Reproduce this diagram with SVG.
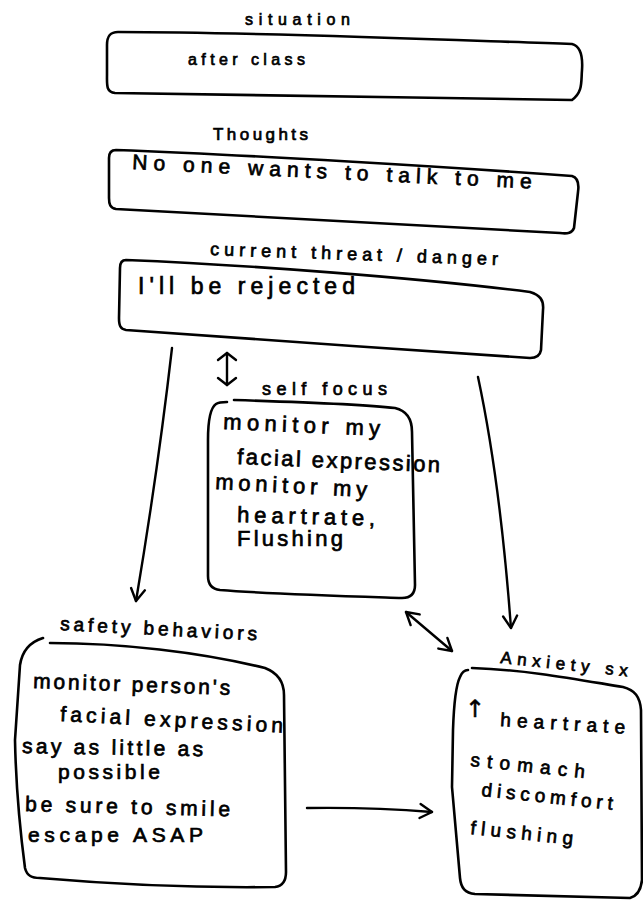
<svg xmlns="http://www.w3.org/2000/svg" width="643" height="901" viewBox="0 0 643 901">
<defs>
<style>
.box{fill:none;stroke:#000;stroke-width:2.6;stroke-linecap:round;stroke-linejoin:round}
.con{fill:none;stroke:#000;stroke-width:2.4;stroke-linecap:round}
.t{font-family:"Liberation Sans",Arial,sans-serif;fill:#000;stroke:#000;stroke-width:0.7}
</style>
<marker id="head" viewBox="0 0 12 14" refX="12" refY="7" markerWidth="12" markerHeight="14" markerUnits="userSpaceOnUse" orient="auto-start-reverse" overflow="visible">
<path d="M0,0 L12,7 L0,14" fill="none" stroke="#000" stroke-width="2.4" stroke-linecap="round" stroke-linejoin="round"/>
</marker>
<marker id="small" viewBox="0 0 7 18" refX="7" refY="9" markerWidth="7" markerHeight="18" markerUnits="userSpaceOnUse" orient="auto-start-reverse" overflow="visible">
<path d="M0,0 L7,9 L0,18" fill="none" stroke="#000" stroke-width="2.4" stroke-linecap="round" stroke-linejoin="round"/>
</marker>
</defs>
<rect width="643" height="901" fill="#fff"/>

<g id="situation">
<path class="box" d="M118 32 C260 32 450 40 572 44 C580 46 583 55 582 70 C581 82 583 92 572 100 C420 98 250 94 115 93 C106 92 107 85 107 75 L107 45 C107 36 110 32 118 32 Z"/>
<text class="t" x="245" y="25" font-size="16" textLength="105" lengthAdjust="spacing">situation</text>
<text class="t" x="188" y="65" font-size="16" textLength="117" lengthAdjust="spacing">after class</text>
</g>

<g id="thoughts">
<path class="box" d="M116 150 C250 155 450 167 572 176 C579 178 579 185 578 192 L574 228 C572 233 568 234 560 233 C400 225 250 216 116 209 C110 208 109 204 109 198 L109 158 C109 152 112 150 116 150 Z"/>
<text class="t" x="213" y="140" font-size="17" textLength="95" lengthAdjust="spacing">Thoughts</text>
<text class="t" x="132" y="169" font-size="21" textLength="400" lengthAdjust="spacing" transform="rotate(2.8 132 169)">No one wants to talk to me</text>
</g>

<g id="threat">
<path class="box" d="M126 260 C250 265 420 278 530 292 C540 295 544 300 543 310 L541 350 C540 356 536 358 530 358 C400 350 250 338 126 330 C120 329 119 325 119 318 L120 268 C120 263 122 260 126 260 Z"/>
<text class="t" x="210" y="255" font-size="18" textLength="288" lengthAdjust="spacing" transform="rotate(2 210 255)">current threat / danger</text>
<text class="t" x="138" y="294" font-size="23" textLength="217" lengthAdjust="spacing">I'll be rejected</text>
</g>

<g id="self-focus">
<path class="box" d="M234 400 C300 402 360 404 395 408 C408 411 412 420 412 432 L415 585 C415 594 410 598 402 598 C340 596 270 594 220 590 C211 589 208 584 208 576 L208 440 C208 420 210 408 216 404 C219 402 223 402 227 402"/>
<text class="t" x="262" y="395" font-size="18" textLength="125" lengthAdjust="spacing">self focus</text>
<text class="t" x="223" y="429" font-size="22" textLength="157" lengthAdjust="spacing" transform="rotate(2.5 223 429)">monitor my</text>
<text class="t" x="237" y="464" font-size="22" textLength="203" lengthAdjust="spacing" transform="rotate(2.3 237 464)">facial expression</text>
<text class="t" x="215" y="489" font-size="22" textLength="152" lengthAdjust="spacing" transform="rotate(3 215 489)">monitor my</text>
<text class="t" x="237" y="522" font-size="22" textLength="138" lengthAdjust="spacing" transform="rotate(1.5 237 522)">heartrate,</text>
<text class="t" x="237" y="546" font-size="22" textLength="106" lengthAdjust="spacing">Flushing</text>
</g>

<g id="safety-behaviors">
<path class="box" d="M43 638 C30 642 22 652 20 665 L15 740 C16 790 20 830 25 868 C27 876 32 878 40 878 C110 884 200 888 275 887 C283 886 286 880 286 872 L284 695 C284 683 278 673 265 668 C200 652 120 643 50 643"/>
<text class="t" x="60" y="630" font-size="19" textLength="197" lengthAdjust="spacing" transform="rotate(3 60 630)">safety behaviors</text>
<text class="t" x="33" y="688" font-size="21" textLength="197" lengthAdjust="spacing" transform="rotate(2 33 688)">monitor person's</text>
<text class="t" x="60" y="721" font-size="21" textLength="223" lengthAdjust="spacing" transform="rotate(3 60 721)">facial expression</text>
<text class="t" x="22" y="753" font-size="21" textLength="181" lengthAdjust="spacing" transform="rotate(1 22 753)">say as little as</text>
<text class="t" x="58" y="779" font-size="21" textLength="102" lengthAdjust="spacing">possible</text>
<text class="t" x="25" y="811" font-size="21" textLength="205" lengthAdjust="spacing" transform="rotate(1.5 25 811)">be sure to smile</text>
<text class="t" x="28" y="842" font-size="21" textLength="175" lengthAdjust="spacing">escape ASAP</text>
</g>

<g id="anxiety-sx">
<path class="box" d="M472 668 C530 670 580 680 623 687 C635 690 640 697 641 710 L642 880 C641 890 637 896 630 898 L475 894 C465 893 461 888 460 878 L452 787 L453 730 C454 700 456 685 460 677 C462 672 465 670 468 670"/>
<text class="t" x="500" y="663" font-size="17" textLength="128" lengthAdjust="spacing" transform="rotate(6 500 663)">Anxiety sx</text>
<text x="465" y="717" font-size="24" font-family="DejaVu Sans, sans-serif" fill="#000" stroke="#000" stroke-width="0.5">↑</text>
<text class="t" x="500" y="726" font-size="19" textLength="125" lengthAdjust="spacing" transform="rotate(3.5 500 726)">heartrate</text>
<text class="t" x="470" y="766" font-size="19" textLength="115" lengthAdjust="spacing" transform="rotate(6 470 766)">stomach</text>
<text class="t" x="481" y="796" font-size="19" textLength="132" lengthAdjust="spacing" transform="rotate(6 481 796)">discomfort</text>
<text class="t" x="470" y="834" font-size="19" textLength="103" lengthAdjust="spacing" transform="rotate(6 470 834)">flushing</text>
</g>

<g id="connectors">
<path class="con" d="M172 348 Q158 470 136 601" marker-end="url(#head)"/>
<path class="con" d="M478 377 Q500 480 511 628" marker-end="url(#head)"/>
<path class="con" d="M227 353 L227 385" marker-start="url(#small)" marker-end="url(#small)"/>
<path class="con" d="M406 612 L452 651" marker-start="url(#head)" marker-end="url(#head)"/>
<path class="con" d="M307 808 Q370 807 432 812" marker-end="url(#head)"/>
</g>
</svg>
